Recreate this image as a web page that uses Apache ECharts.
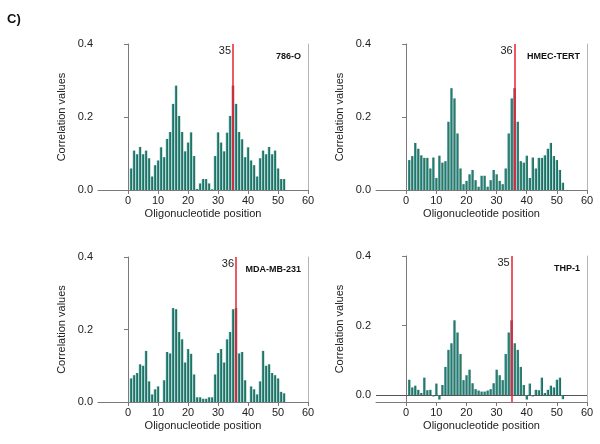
<!DOCTYPE html>
<html><head><meta charset="utf-8">
<script src="https://cdn.jsdelivr.net/npm/echarts@6/dist/echarts.min.js"></script>
<style>html,body{margin:0;padding:0;background:#fff}#c{width:600px;height:444px}</style>
</head><body><div id="c"></div>
<script>
const positions = [1,2,3,4,5,6,7,8,9,10,11,12,13,14,15,16,17,18,19,20,21,22,23,24,25,26,27,28,29,30,31,32,33,34,35,36,37,38,39,40,41,42,43,44,45,46,47,48,49,50,51,52];
const xTicks = [0,10,20,30,40,50,60];
const yTicks = [0,0.2,0.4];
const cellLines = ['786-O','HMEC-TERT','MDA-MB-231','THP-1'];
const markers = [35,36,36,35];
const vals786O = [0.059,0.108,0.098,0.118,0.098,0.108,0.087,0.037,0.068,0.081,0.117,0.09,0.14,0.159,0.236,0.286,0.203,0.159,0.106,0.13,0.158,0.093,0.003,0.018,0.03,0.03,0.018,0.002,0.093,0.158,0.13,0.106,0.157,0.203,0.286,0.236,0.159,0.139,0.09,0.117,0.081,0.068,0.037,0.087,0.108,0.098,0.118,0.098,0.108,0.059,0.03,0.03];
const valsHMEC = [0.082,0.093,0.129,0.113,0.095,0.088,0.088,0.059,0.089,0.033,0.094,0.075,0.079,0.187,0.279,0.251,0.155,0.059,0.016,0.025,0.043,0.055,0.027,0.009,0.039,0.039,0.009,0.027,0.055,0.043,0.025,0.016,0.059,0.155,0.251,0.279,0.187,0.079,0.075,0.094,0.033,0.089,0.059,0.088,0.088,0.095,0.113,0.129,0.093,0.082,0.055,0.02];
const valsMDA = [0.065,0.074,0.08,0.104,0.1,0.141,0.057,0.021,0.035,0.043,0,0.06,0.138,0.134,0.259,0.256,0.193,0.173,0.109,0.146,0.133,0.076,0.013,0.013,0.009,0.009,0.013,0.013,0.076,0.135,0.146,0.109,0.173,0.193,0.256,0.259,0.134,0.138,0.06,0,0.043,0.035,0.021,0.057,0.141,0.1,0.104,0.08,0.074,0.065,0.028,0.024];
const valsTHP = [0.044,0.022,0.027,0.015,0.006,0.05,0.014,0.015,-0.004,0.033,-0.013,0.029,0.081,0.13,0.149,0.215,0.18,0.118,0.043,0.057,0.073,0.034,0.017,0.013,0.01,0.01,0.013,0.017,0.034,0.073,0.057,0.043,0.118,0.18,0.215,0.149,0.13,0.081,0.029,-0.013,0.033,-0.004,0.015,0.014,0.05,0.006,0.015,0.027,0.022,0.044,0.05,-0.012];
const allVals = [vals786O, valsHMEC, valsMDA, valsTHP];
const yMins = [0,0,0,-0.02];

const chart = echarts.init(document.getElementById('c'), null, {renderer:'canvas'});
const grids = [
  {left:98, top:44, width:210, height:146},
  {left:376, top:44, width:211, height:146},
  {left:98, top:257, width:210, height:145},
  {left:376, top:256, width:211, height:146}
];
const FONT = 'Liberation Sans, Arial, sans-serif';
const barGrad = new echarts.graphic.LinearGradient(0,0,1,0,[
  {offset:0,color:'#4f98bd'},{offset:0.45,color:'#27836a'},{offset:1,color:'#17644a'}]);
const xAxes=[], yAxes=[], series=[], titles=[];
grids.forEach((g,i)=>{
  xAxes.push({type:'value', gridIndex:i, min:-10, max:60, interval:10,
    axisLine:{onZero:false, lineStyle:{color:'#7a7a7a', width:1}},
    axisTick:{show:true, length:4, customValues:xTicks, lineStyle:{color:'#7a7a7a'}},
    axisLabel:{customValues:xTicks, color:'#222', fontSize:11, fontFamily:FONT, margin:5},
    splitLine:{show:false},
    name:'Oligonucleotide position', nameLocation:'middle', nameGap:18,
    nameTextStyle:{color:'#222', fontSize:11, fontFamily:FONT}});
  yAxes.push({type:'value', gridIndex:i, min:yMins[i], max:0.4,
    axisLine:{show:true, lineStyle:{color:'#7a7a7a', width:1}},
    axisTick:{show:true, length:4, customValues:yTicks, lineStyle:{color:'#7a7a7a'}},
    axisLabel:{customValues:yTicks, color:'#222', fontSize:11, fontFamily:FONT, margin:5,
      formatter:v=>v.toFixed(1)},
    splitLine:{show:false},
    name:'Correlation values', nameLocation:'middle', nameGap:31,
    nameTextStyle:{color:'#222', fontSize:11, fontFamily:FONT}});
  yAxes.push({type:'value', gridIndex:i, position:'right', min:yMins[i], max:0.4,
    axisLine:{show:true, lineStyle:{color:'#b4b4b4', width:1}},
    axisTick:{show:false}, axisLabel:{show:false}, splitLine:{show:false}});
  const vals = allVals[i];
  const m = markers[i];
  const data = positions.map((p,k)=>{
    const d = {value:[p, vals[k]]};
    if (p===m) d.itemStyle = {color:'#5a2a4c'};
    return d;
  });
  if (yMins[i] < 0) {
    series.push({type:'line', xAxisIndex:i, yAxisIndex:i*2, data:[], animation:false,
      markLine:{symbol:['none','none'], silent:true, animation:false, z:1,
        lineStyle:{color:'#555', width:1, type:'solid'}, label:{show:false},
        data:[{yAxis:0}]}});
  }
  series.push({type:'bar', xAxisIndex:i, yAxisIndex:i*2, data:data, barWidth:2.4,
    itemStyle:{color:barGrad}, animation:false,
    markLine:{symbol:['none','none'], silent:true, animation:false, z:10,
      lineStyle:{color:'#e8323e', width:1.6, type:'solid', opacity:1},
      label:{show:false},
      data:[{xAxis:m}]},
    markPoint:{symbol:'circle', symbolSize:0, animation:false,
      data:[{coord:[m, 0.4], label:{show:true, formatter:String(m), position:'left', distance:2,
        offset:[0,7], color:'#222', fontSize:11, fontFamily:FONT}}]}
  });
  titles.push({text:cellLines[i], right:600-(g.left+g.width)+2, top:g.top+3,
    textStyle:{fontSize:9, fontWeight:'bold', color:'#111', fontFamily:FONT}});
});
titles.push({text:'C)', left:2, top:8, textStyle:{fontSize:13, fontWeight:'bold', color:'#111', fontFamily:FONT}});
chart.setOption({
  animation:false,
  backgroundColor:'#fff',
  title:titles,
  grid:grids,
  xAxis:xAxes,
  yAxis:yAxes,
  series:series
});
</script></body></html>
